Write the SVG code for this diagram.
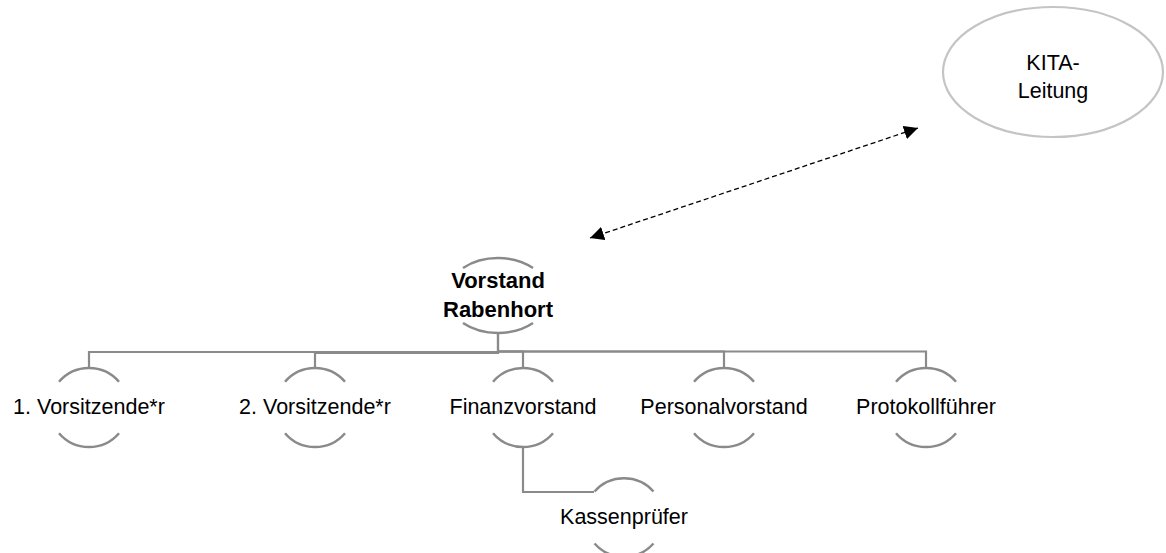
<svg xmlns="http://www.w3.org/2000/svg" width="1166" height="553" viewBox="0 0 1166 553">
<style>
.arc{fill:none;stroke:#8a8a8a;stroke-width:2.5}
.con{fill:none;stroke:#8a8a8a;stroke-width:2.2}
.lbl{font-family:"Liberation Sans",Arial,sans-serif;font-size:21.5px;fill:#000;text-anchor:middle}
.bold{font-weight:bold;font-size:22px}
</style>
<defs>
<marker id="ah" viewBox="0 0 10 10" refX="10" refY="5" markerWidth="14" markerHeight="14" markerUnits="userSpaceOnUse" orient="auto-start-reverse">
<path d="M0,0 L10,5 L0,10 z" fill="#000"/>
</marker>
</defs>
<rect width="1166" height="553" fill="#fff"/>
<g id="connectors">
<path class="con" d="M498 333 V352 H89 V368"/>
<path class="con" d="M498 333 V353 H315 V368"/>
<path class="con" d="M498 351.5 H523 V368"/>
<path class="con" d="M498 351.5 H724 V368"/>
<path class="con" d="M498 351.5 H926 V368"/>
<path class="con" d="M523 447 V492 H594"/>
<line x1="590" y1="238" x2="918" y2="128" stroke="#000" stroke-width="1.3" stroke-dasharray="5,3" marker-start="url(#ah)" marker-end="url(#ah)"/>
</g>
<g id="vorstand">
<path class="arc" d="M463 268 A51.5 37.5 0 0 1 533 268"/>
<path class="arc" d="M463 323 A51.5 37.5 0 0 0 533 323"/>
<text class="lbl bold" x="498" y="288">Vorstand</text>
<text class="lbl bold" x="498" y="317">Rabenhort</text>
</g>
<g id="vorsitz1">
<path class="arc" d="M59 381.8 A39.5 39.5 0 0 1 119 381.8"/>
<path class="arc" d="M59 433.2 A39.5 39.5 0 0 0 119 433.2"/>
<text class="lbl" x="89" y="414">1. Vorsitzende*r</text>
</g>
<g id="vorsitz2">
<path class="arc" d="M285 381.8 A39.5 39.5 0 0 1 345 381.8"/>
<path class="arc" d="M285 433.2 A39.5 39.5 0 0 0 345 433.2"/>
<text class="lbl" x="315" y="414">2. Vorsitzende*r</text>
</g>
<g id="finanz">
<path class="arc" d="M493 381.8 A39.5 39.5 0 0 1 553 381.8"/>
<path class="arc" d="M493 433.2 A39.5 39.5 0 0 0 553 433.2"/>
<text class="lbl" x="523" y="414">Finanzvorstand</text>
</g>
<g id="personal">
<path class="arc" d="M694 381.8 A39.5 39.5 0 0 1 754 381.8"/>
<path class="arc" d="M694 433.2 A39.5 39.5 0 0 0 754 433.2"/>
<text class="lbl" x="724" y="414">Personalvorstand</text>
</g>
<g id="protokoll">
<path class="arc" d="M896 381.8 A39.5 39.5 0 0 1 956 381.8"/>
<path class="arc" d="M896 433.2 A39.5 39.5 0 0 0 956 433.2"/>
<text class="lbl" x="926" y="414">Protokollführer</text>
</g>
<g id="kassen">
<path class="arc" d="M594.5 491.5 A39.5 39.5 0 0 1 653.5 491.5"/>
<path class="arc" d="M594.5 543.5 A39.5 39.5 0 0 0 653.5 543.5"/>
<text class="lbl" x="624" y="524">Kassenprüfer</text>
</g>
<g id="kita">
<ellipse cx="1053" cy="72" rx="110" ry="65" fill="#fff" stroke="#c4c4c4" stroke-width="2.2"/>
<text class="lbl" x="1053" y="70">KITA-</text>
<text class="lbl" x="1053" y="98">Leitung</text>
</g>
</svg>
